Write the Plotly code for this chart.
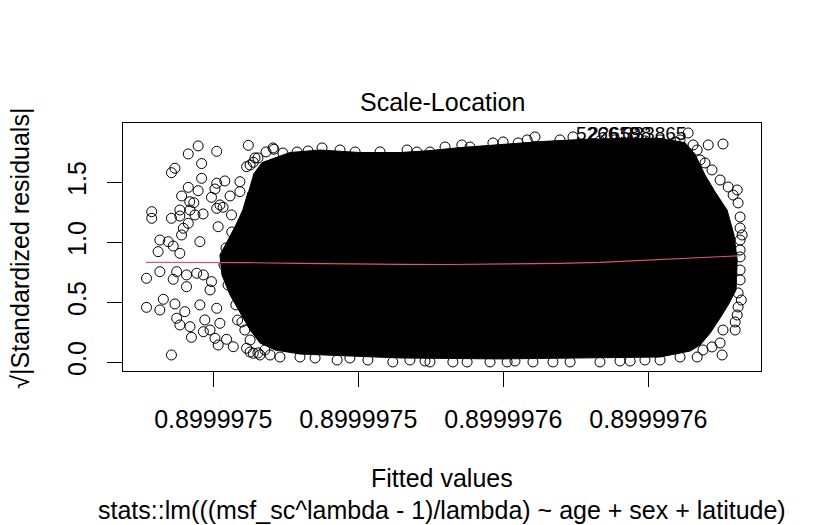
import plotly.graph_objects as go

# fitted values are stored as offsets (in 1e-9) above 0.8999970
BASE = 0.8999970
UNIT = 1e-9

# outline of the solid cloud of overplotted points
cloud_off = [463.7, 466.8, 476.4, 486.8, 500.6, 514.4, 524.7, 535.1, 548.9, 562.6, 576.4, 590.2,
             604.0, 612.6, 616.1, 619.5, 623.0, 627.1, 629.5, 630.6, 630.2, 627.5, 624.7, 621.3,
             617.8, 614.4, 604.0, 583.3, 548.9, 514.4, 493.7, 479.9, 471.3, 466.1, 462.7, 459.2,
             455.8, 453.0, 452.3, 455.1, 457.8, 460.2, 462.0]
cloud_y = [1.561, 1.664, 1.748, 1.769, 1.748, 1.748, 1.764, 1.789, 1.814, 1.839, 1.856, 1.864,
           1.864, 1.831, 1.731, 1.561, 1.419, 1.269, 1.061, 0.853, 0.603, 0.478, 0.369, 0.244,
           0.144, 0.094, 0.044, 0.036, 0.028, 0.036, 0.053, 0.069, 0.103, 0.161, 0.269, 0.419,
           0.561, 0.728, 0.894, 1.019, 1.144, 1.269, 1.419]

# individual points (sparse left tail and cloud edges)
pts_off = [444.8, 441.4, 451.2, 462.1, 470.9, 446.0, 436.8, 435.6, 446.0, 454.0, 451.2, 459.2,
           461.5, 463.8, 441.4, 444.8, 450.6, 439.1, 449.4, 455.8, 459.2, 441.9, 443.3, 452.3,
           428.8, 428.8, 435.6, 438.5, 438.5, 442.0, 443.7, 446.5, 451.2, 453.4, 456.3, 441.4,
           439.7, 439.1, 431.6, 434.5, 436.2, 431.0, 438.5, 445.4, 451.7,
           427.0, 431.6, 436.2, 437.4, 440.8, 440.8, 444.3, 446.6, 432.8, 427.0, 431.6, 436.8,
           440.2, 437.4, 438.5, 442.0, 445.4, 447.1, 446.6, 442.5, 448.9, 450.6, 451.7, 454.6,
           456.9, 435.6, 448.9, 452.3, 451.2, 449.4, 461.5, 463.8, 466.1, 469.6,
           470.6, 474.0, 478.9, 516.8, 520.2, 524.7, 529.9, 535.7, 538.5, 546.4, 549.9, 555.1,
           558.2, 560.9, 569.5, 574.0, 482.7, 487.5, 493.7, 498.9, 507.5,
           613.7, 620.6, 625.7, 615.4, 619.5, 627.5, 629.2, 630.9, 631.6, 631.6, 631.6, 631.6,
           631.6, 631.6, 631.6, 630.9, 630.9, 630.6, 629.9, 625.7, 629.9, 624.7, 625.4, 621.9,
           618.8, 616.8,
           462.7, 465.4, 473.0, 479.9, 485.1, 492.7, 497.1, 503.3, 511.9, 517.8, 524.7, 532.6,
           537.5, 545.4, 551.3, 560.2, 567.1, 573.0, 583.3, 593.7, 604.0, 610.9,
           610.9, 616.8, 621.9, 624.7, 617.8, 465.4, 468.2, 462.7,
           459.2, 457.5, 455.8, 459.2, 460.9, 458.4,
           583.3, 588.5, 593.7, 598.8, 604.0, 609.2, 464.4,
           456.4, 454.4, 453.7, 455.1, 457.8, 459.9, 462.7, 467.8,
           630.6, 632.3, 632.0,
           590.2, 598.8, 554.0, 523.0]
pts_y = [1.803, 1.736, 1.758, 1.808, 1.775, 1.656, 1.617, 1.580, 1.533, 1.511, 1.492, 1.505,
         1.630, 1.667, 1.458, 1.430, 1.444, 1.386, 1.375, 1.386, 1.422, 1.338, 1.330, 1.311,
         1.255, 1.200, 1.200, 1.269, 1.219, 1.269, 1.228, 1.236, 1.283, 1.292, 1.228, 1.158,
         1.117, 1.061, 1.019, 1.005, 0.969, 0.922, 0.908, 1.005, 1.130,
         0.700, 0.755, 0.692, 0.755, 0.630, 0.728, 0.742, 0.728, 0.525, 0.458, 0.436, 0.486,
         0.422, 0.367, 0.311, 0.297, 0.478, 0.353, 0.255, 0.208, 0.269, 0.200, 0.144, 0.192,
         0.130, 0.061, 0.603, 0.325, 0.450, 0.672, 0.117, 0.075, 0.061, 0.061,
         1.786, 1.744, 1.752, 1.769, 1.752, 1.752, 1.794, 1.811, 1.794, 1.828, 1.836, 1.828,
         1.853, 1.878, 1.853, 1.878, 1.761, 1.786, 1.769, 1.753, 1.753,
         1.911, 1.811, 1.819, 1.811, 1.661, 1.461, 1.394, 1.328, 1.211, 1.119, 1.019, 0.936,
         0.878, 0.769, 0.686, 0.578, 0.461, 0.394, 0.336, 0.269, 0.269, 0.161, 0.061, 0.128,
         0.103, 0.044,
         0.086, 0.078, 0.044, 0.044, 0.036, 0.019, 0.036, 0.019, 0.003, 0.019, 0.003, 0.003,
         0.003, 0.003, 0.003, 0.003, 0.003, 0.003, 0.003, 0.011, 0.019, 0.044,
         1.853, 1.769, 1.603, 1.519, 1.686, 1.703, 1.753, 1.644,
         1.102, 0.853, 0.686, 0.519, 0.269, 0.352,
         1.845, 1.853, 1.836, 1.845, 1.853, 1.836, 1.703,
         1.086, 0.953, 0.811, 0.644, 0.478, 0.336, 0.186, 0.103,
         1.436, 1.061, 0.519,
         0.011, 0.019, 0.011, 0.011]

# loess smooth
smooth_off = [426.8, 445.4, 462.7, 479.9, 497.1, 514.4, 531.6, 548.9, 569.5, 583.3, 597.1, 610.9, 624.7, 631.6]
smooth_y = [0.833, 0.833, 0.830, 0.825, 0.819, 0.816, 0.815, 0.818, 0.825, 0.832, 0.848, 0.863, 0.881, 0.888]

# labelled extreme observations
label_off = [573.7, 577.8, 589.9]
label_y = [1.903, 1.903, 1.903]
label_text = ["526618", "226598", "333865"]

tick_off = [450, 500, 550, 600]
tick_text = ["0.8999975", "0.8999975", "0.8999976", "0.8999976"]


def fitted(offs):
    return [BASE + o * UNIT for o in offs]


FONT = "Liberation Sans, Arial, sans-serif"
FS = 25

fig = go.Figure()
fig.add_trace(go.Scatter(x=fitted(cloud_off), y=cloud_y, mode='lines', fill='toself',
                         fillcolor='black', line=dict(color='black', width=1), hoverinfo='skip'))
fig.add_trace(go.Scatter(x=fitted(pts_off), y=pts_y, mode='markers',
                         marker=dict(symbol='circle-open', size=10, color='black', line=dict(width=1))))
fig.add_trace(go.Scatter(x=fitted(smooth_off), y=smooth_y, mode='lines',
                         line=dict(color='#DF536B', width=1.2)))

annotations = []
for o, yv, t in zip(fitted(label_off), label_y, label_text):
    annotations.append(dict(x=o, y=yv, text=t, showarrow=False, xanchor='left', yanchor='middle',
                            xshift=2, font=dict(family=FONT, size=19, color='black')))

annotations += [
    dict(x=0.5, y=1.085, xref='paper', yref='paper', text='Scale-Location', showarrow=False,
         xanchor='center', yanchor='middle', font=dict(family=FONT, size=FS, color='black')),
    dict(x=0.5, y=-0.432, xref='paper', yref='paper', text='Fitted values', showarrow=False,
         xanchor='center', yanchor='middle', font=dict(family=FONT, size=FS, color='black')),
    dict(x=0.5, y=-0.56, xref='paper', yref='paper',
         text='stats::lm(((msf_sc^lambda - 1)/lambda) ~ age + sex + latitude)', showarrow=False,
         xanchor='center', yanchor='middle', font=dict(family=FONT, size=FS, color='black')),
    dict(x=-0.162, y=0.496, xref='paper', yref='paper', text='√|Standardized residuals|',
         textangle=-90, showarrow=False, xanchor='center', yanchor='middle',
         font=dict(family=FONT, size=FS, color='black')),
]

# the page body adds 8px, so the margins are pulled in by that much
fig.update_layout(
    width=825, height=525,
    margin=dict(l=115, r=72, t=115, b=162),
    paper_bgcolor='white', plot_bgcolor='white',
    showlegend=False,
    annotations=annotations,
    font=dict(family=FONT, size=FS, color='black'),
)
fig.update_xaxes(range=fitted([418.9, 638.8]), tickvals=fitted(tick_off), ticktext=tick_text,
                 showgrid=False, zeroline=False, showline=True, mirror=True, linecolor='black',
                 linewidth=1, ticks='outside', ticklen=15, tickcolor='black', ticklabelstandoff=11,
                 tickfont=dict(family=FONT, size=FS, color='black'))
fig.update_yaxes(range=[-0.0725, 1.994], tickvals=[0, 0.5, 1.0, 1.5],
                 ticktext=['0.0', '0.5', '1.0', '1.5'], tickangle=-90,
                 showgrid=False, zeroline=False, showline=True, mirror=True, linecolor='black',
                 linewidth=1, ticks='outside', ticklen=15, tickcolor='black', ticklabelstandoff=11,
                 tickfont=dict(family=FONT, size=FS, color='black'))

fig.write_html("out.html")
